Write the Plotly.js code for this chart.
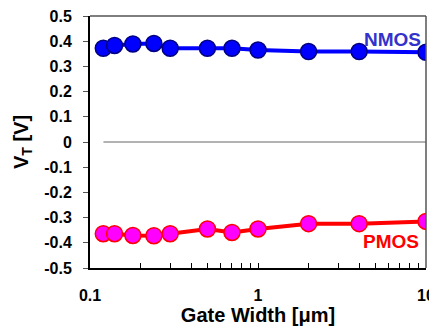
<!DOCTYPE html>
<html><head><meta charset="utf-8">
<script src="https://cdn.plot.ly/plotly-3.0.1.min.js"></script>
<style>html,body{margin:0;padding:0;background:#fff}#c{width:429px;height:330px}</style>
</head><body><div id="c"></div>
<script>
const gateWidth = [0.12, 0.14, 0.18, 0.24, 0.3, 0.5, 0.7, 1, 2, 4, 10];
const nmosVt = [0.372, 0.383, 0.389, 0.391, 0.372, 0.372, 0.372, 0.365, 0.359, 0.359, 0.356];
const pmosVt = [-0.364, -0.364, -0.371, -0.372, -0.364, -0.345, -0.359, -0.345, -0.324, -0.324, -0.315];
const xTickVals = [0.1,0.2,0.3,0.4,0.5,0.6,0.7,0.8,0.9,1,2,3,4,5,6,7,8,9,10];
const xTickText = xTickVals.map(v => (v === 0.1 || v === 1 || v === 10) ? String(v) : ' ');
const yTickVals = [-0.5,-0.4,-0.3,-0.2,-0.1,0,0.1,0.2,0.3,0.4,0.5];
const yTickText = ['-0.5','-0.4','-0.3','-0.2','-0.1','0','0.1','0.2','0.3','0.4','0.5'];

const F = '"Liberation Sans", Arial, sans-serif';
const traces = [
  {x: gateWidth, y: nmosVt, mode: 'lines+markers', name: 'NMOS',
   line: {color: '#0000FF', width: 4},
   marker: {size: 16, color: '#0000FF', line: {color: '#000080', width: 1.5}}},
  {x: gateWidth, y: pmosVt, mode: 'lines+markers', name: 'PMOS',
   line: {color: '#FF0000', width: 4},
   marker: {size: 16, color: '#FF00FF', line: {color: '#FF0000', width: 1.5}}}
];
const layout = {
  width: 429, height: 330,
  margin: {l: 90, r: 3, t: 16, b: 62},
  paper_bgcolor: '#fff', plot_bgcolor: '#fff',
  showlegend: false,
  font: {family: F, color: '#000', weight: 700},
  xaxis: {type: 'log', range: [-1, 1], tickvals: xTickVals, ticktext: xTickText, tickangle: 0,
    ticks: 'inside', ticklen: 5, tickwidth: 1, tickcolor: '#000', ticklabeloverflow: 'allow', ticklabelstandoff: 12,
    showline: true, linecolor: '#000', linewidth: 2, showgrid: false, zeroline: false,
    tickfont: {family: F, size: 16, color: '#000', weight: 700},
    title: {text: 'Gate Width [μm]', font: {family: F, size: 20, color: '#000', weight: 700}, standoff: 5}},
  yaxis: {range: [-0.5, 0.5], tickvals: yTickVals, ticktext: yTickText,
    ticks: 'outside', ticklen: 5, tickwidth: 1, tickcolor: '#555', ticklabelstandoff: 8,
    showline: true, linecolor: '#000', linewidth: 2, showgrid: false, zeroline: false,
    tickfont: {family: F, size: 16, color: '#000', weight: 700},
    title: {text: 'V<sub>T</sub> [V]', font: {family: F, size: 20, color: '#000', weight: 700}, standoff: 10}},
  shapes: [
    {type: 'line', xref: 'paper', yref: 'y', x0: 0.04, x1: 1, y0: 0, y1: 0, line: {color: '#666', width: 1}},
    {type: 'line', xref: 'paper', yref: 'paper', x0: 0, x1: 1, y0: 1, y1: 1, line: {color: '#555', width: 1.5}},
    {type: 'line', xref: 'paper', yref: 'paper', x0: 1, x1: 1, y0: 0, y1: 1, line: {color: '#555', width: 1.5}}
  ],
  annotations: [
    {text: 'NMOS', xref: 'paper', yref: 'paper', x: 0.99, y: 0.905, xanchor: 'right', yanchor: 'middle', showarrow: false,
     font: {family: F, size: 19, color: '#3333CC', weight: 700}},
    {text: 'PMOS', xref: 'paper', yref: 'paper', x: 0.985, y: 0.105, xanchor: 'right', yanchor: 'middle', showarrow: false,
     font: {family: F, size: 19, color: '#FF0000', weight: 700}}
  ]
};
Plotly.newPlot('c', traces, layout, {displayModeBar: false, staticPlot: true});
</script></body></html>
